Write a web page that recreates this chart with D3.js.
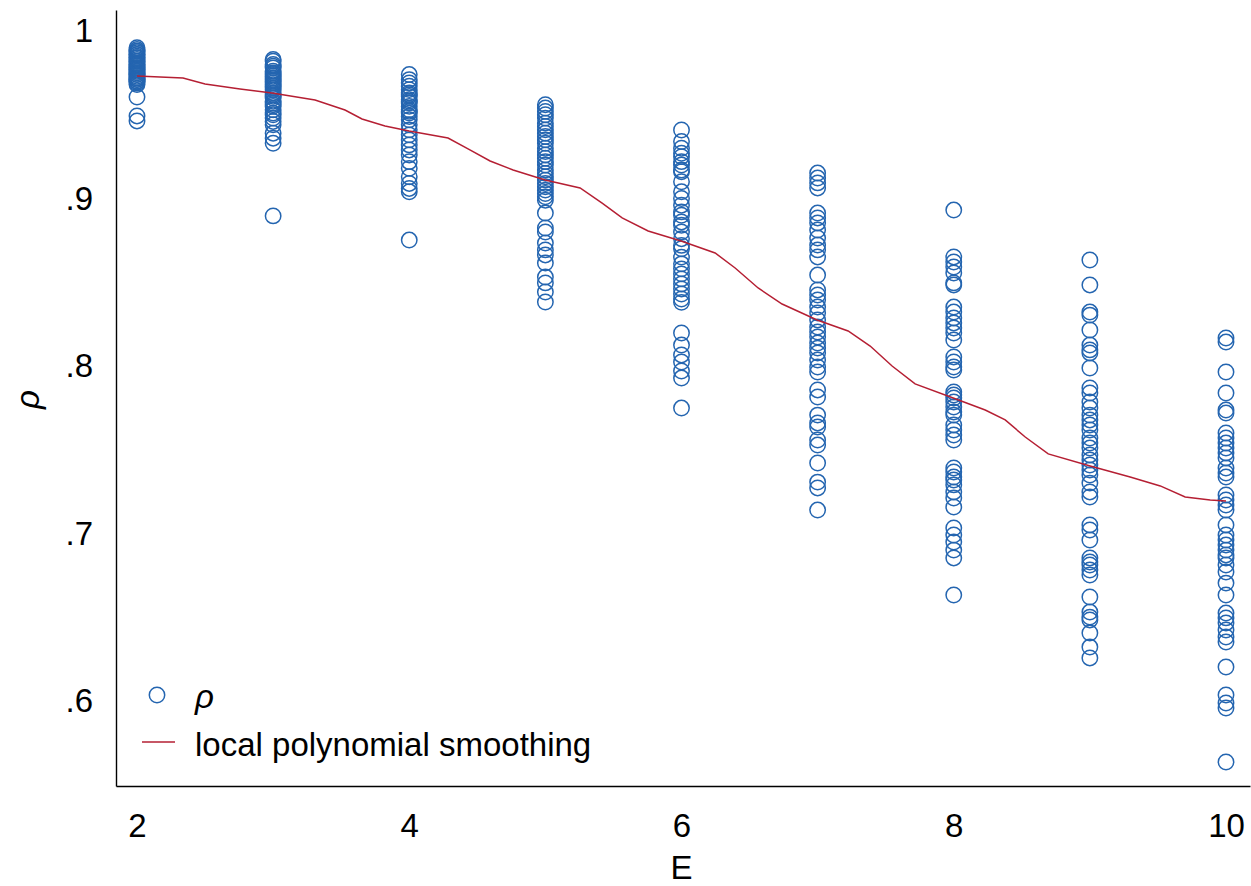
<!DOCTYPE html>
<html>
<head>
<meta charset="utf-8">
<script src="https://cdn.jsdelivr.net/npm/d3@7"></script>
<style>
  html, body { margin: 0; padding: 0; background: #fff; }
  svg { display: block; }
  text { font-family: "Liberation Sans", Arial, sans-serif; fill: #000; }
</style>
</head>
<body>
<svg id="chart" width="1251" height="886"></svg>
<script>
// Embedding dimension E on the x axis, correlation rho for each run
const embeddingDims = [2, 3, 4, 5, 6, 7, 8, 9, 10];

const rhoE2 = [.990, .989, .988, .988, .987, .986, .986, .985, .984, .984, .983, .982, .982, .981,
  .980, .980, .979, .978, .978, .977, .977, .976, .975, .975, .974, .974, .973, .972, .972, .971,
  .971, .970, .970, .969, .968, .9606, .9493, .9463];
const rhoE3 = [.983, .982, .980, .979, .978, .976, .975, .974, .973, .972, .971, .970, .969, .968,
  .967, .966, .965, .963, .962, .961, .960, .958, .957, .956, .955, .953, .951, .950, .948, .946,
  .944, .939, .936, .933, .8896];
const rhoE4 = [.974, .971, .969, .967, .965, .963, .962, .961, .959, .958, .957, .955, .953, .952,
  .951, .949, .947, .944, .941, .938, .935, .932, .929, .926, .922, .918, .913, .909, .906, .904, .8752];
const rhoE5 = [.956, .954, .952, .950, .948, .945, .943, .941, .939, .937, .935, .933, .930, .928,
  .926, .924, .922, .920, .917, .915, .913, .911, .909, .907, .905, .903, .901, .899, .8913, .8824,
  .8800, .8734, .8693, .8663, .8615, .8531, .8496, .8442, .8382];
const rhoE6 = [.9409, .934, .930, .927, .925, .922, .920, .917, .916, .910, .904, .900, .896, .892,
  .890, .886, .884, .880, .876, .872, .870, .865, .861, .858, .855, .852, .849, .846, .843, .840,
  .838, .8197, .8125, .8066, .8024, .7970, .7928, .7749];
const rhoE7 = [.9152, .9122, .9093, .9063, .8913, .8884, .8854, .8812, .8764, .8722, .8693, .8651,
  .8543, .8454, .8424, .8394, .8352, .8316, .8275, .8233, .8203, .8173, .8137, .8107, .8078, .8036,
  .7994, .7964, .7857, .7815, .7707, .7660, .7636, .7558, .7528, .7421, .7307, .7272, .7140];
const rhoE8 = [.8931, .8651, .8621, .8591, .8555, .8496, .8484, .8352, .8322, .8287, .8257, .8227,
  .8197, .8155, .8054, .8024, .7994, .7976, .7845, .7827, .7809, .7785, .7755, .7725, .7707, .7648,
  .7618, .7588, .7558, .7391, .7367, .7337, .7319, .7290, .7248, .7212, .7158, .7033, .6991, .6949,
  .6901, .6854, .6633];
const rhoE9 = [.8633, .8484, .8322, .8304, .8215, .8125, .8096, .8078, .7988, .7869, .7839, .7785,
  .7749, .7707, .7678, .7648, .7618, .7570, .7540, .7510, .7469, .7439, .7409, .7379, .7349, .7301,
  .7248, .7218, .7051, .7021, .6961, .6854, .6830, .6812, .6782, .6752, .6621, .6531, .6501, .6484,
  .6406, .6322, .6257];
const rhoE10 = [.8167, .8143, .7964, .7839, .7737, .7719, .7600, .7570, .7540, .7510, .7481, .7451,
  .7391, .7361, .7337, .7230, .7200, .7170, .7140, .7051, .6991, .6961, .6931, .6901, .6872, .6854,
  .6812, .6770, .6704, .6633, .6525, .6496, .6466, .6424, .6382, .6352, .6203, .6036, .5988, .5958,
  .5636];

const rhoByDim = [rhoE2, rhoE3, rhoE4, rhoE5, rhoE6, rhoE7, rhoE8, rhoE9, rhoE10];

// Local polynomial smooth of rho on E
const smoothE = [2.0, 2.338, 2.5, 2.757, 2.992, 3.308, 3.528, 3.653, 3.822, 3.999, 4.285, 4.432,
  4.594, 4.763, 4.998, 5.255, 5.417, 5.564, 5.755, 5.997, 6.247, 6.394, 6.563, 6.739, 6.996, 7.224,
  7.386, 7.547, 7.716, 7.996, 8.231, 8.378, 8.525, 8.694, 9.002, 9.296, 9.517, 9.700, 9.884, 10.0];
const smoothRho = [.9731, .9719, .9684, .9654, .9630, .9588, .9528, .9475, .9433, .9403, .9361,
  .9296, .9224, .9170, .9110, .9063, .8973, .8884, .8806, .8746, .8675, .8585, .8466, .8370, .8275,
  .8209, .8119, .8000, .7893, .7809, .7737, .7678, .7576, .7475, .7403, .7337, .7284, .7218, .7200,
  .7194];

const xTicks = [2, 4, 6, 8, 10];
const yTicks = [0.6, 0.7, 0.8, 0.9, 1.0];
const legendLabels = ["ρ", "local polynomial smoothing"];

const pointColor = "#2465b0";
const lineColor = "#b51f33";
const fontSize = 33;

const svg = d3.select("#chart");

const plot = { left: 116, right: 1250, top: 10, bottom: 786 };

const x = d3.scaleLinear().domain([1.8457, 10.1763]).range([plot.left, plot.right]);
const y = d3.scaleLinear().domain([0.54925, 1.01254]).range([plot.bottom, plot.top]);

const fmtY = v => v >= 1 ? "1" : d3.format(".1f")(v).replace(/^0/, "");

// Axes: plain lines, no tick marks
const yAxis = svg.append("g")
  .attr("transform", `translate(${plot.left},0)`)
  .call(d3.axisLeft(y).tickValues(yTicks).tickFormat(fmtY).tickSize(0).tickPadding(23));
const xAxis = svg.append("g")
  .attr("transform", `translate(0,${plot.bottom})`)
  .call(d3.axisBottom(x).tickValues(xTicks).tickFormat(d3.format("d")).tickSize(0).tickPadding(28));

[yAxis, xAxis].forEach(g => {
  g.select(".domain").attr("stroke", "#000").attr("stroke-width", 1.4);
  g.selectAll(".tick text")
    .attr("font-size", fontSize)
    .attr("font-family", "'Liberation Sans', Arial, sans-serif")
    .attr("fill", "#000");
});

// Axis titles
svg.append("text")
  .attr("x", x(6))
  .attr("y", 879)
  .attr("text-anchor", "middle")
  .attr("font-size", fontSize)
  .text("E");
svg.append("text")
  .attr("transform", `translate(39,${y(0.78)}) rotate(-90)`)
  .attr("text-anchor", "middle")
  .attr("font-size", fontSize)
  .attr("font-style", "italic")
  .text("ρ");

// Scatter points
const points = [];
embeddingDims.forEach((e, i) => rhoByDim[i].forEach(r => points.push({ e, r })));

svg.append("g")
  .selectAll("circle")
  .data(points)
  .join("circle")
  .attr("cx", d => x(d.e))
  .attr("cy", d => y(d.r))
  .attr("r", 7.7)
  .attr("fill", "none")
  .attr("stroke", pointColor)
  .attr("stroke-width", 1.5);

// Smoothed curve
const smooth = smoothE.map((e, i) => ({ e, r: smoothRho[i] }));
svg.append("path")
  .datum(smooth)
  .attr("fill", "none")
  .attr("stroke", lineColor)
  .attr("stroke-width", 1.5)
  .attr("d", d3.line().x(d => x(d.e)).y(d => y(d.r)));

// Legend
const legend = svg.append("g");
legend.append("circle")
  .attr("cx", 157).attr("cy", 695).attr("r", 7.7)
  .attr("fill", "none").attr("stroke", pointColor).attr("stroke-width", 1.5);
legend.append("line")
  .attr("x1", 142).attr("x2", 175).attr("y1", 742).attr("y2", 742)
  .attr("stroke", lineColor).attr("stroke-width", 1.5);
legend.append("text")
  .attr("x", 195).attr("y", 708)
  .attr("font-size", fontSize).attr("font-style", "italic")
  .text(legendLabels[0]);
legend.append("text")
  .attr("x", 195).attr("y", 756)
  .attr("font-size", fontSize)
  .text(legendLabels[1]);
</script>
</body>
</html>
